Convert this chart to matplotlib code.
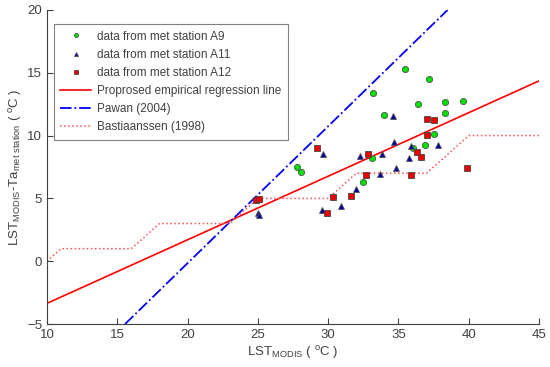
import numpy as np
import matplotlib.pyplot as plt

plt.rcParams['font.family'] = ['Liberation Sans', 'DejaVu Sans']

# station A9
a9_x = [27.8, 28.1, 35.5, 37.2, 33.2, 36.4, 38.3, 39.6, 38.3, 34.0, 37.5, 36.9, 36.05, 33.1, 32.5]
a9_y = [7.5, 7.1, 15.3, 14.5, 13.4, 12.5, 12.7, 12.75, 11.8, 11.6, 10.1, 9.25, 9.05, 8.2, 6.3]
# station A11
a11_x = [25.0, 25.1, 29.55, 30.9, 32.0, 33.7, 34.8, 32.3, 29.6, 33.85, 35.75, 35.9, 37.8, 34.7, 34.6]
a11_y = [3.8, 3.65, 4.05, 4.4, 5.75, 6.95, 7.4, 8.4, 8.5, 8.5, 8.25, 9.2, 9.25, 9.5, 11.55]
# station A12
a12_x = [24.9, 25.1, 29.2, 29.9, 30.35, 31.6, 32.7, 32.8, 35.9, 36.3, 36.6, 37.0, 37.0, 37.5, 39.9]
a12_y = [4.85, 4.95, 9.05, 3.8, 5.15, 5.2, 6.85, 8.5, 6.9, 8.7, 8.3, 10.05, 11.3, 11.25, 7.4]

# lines
reg_x = [10, 45]
reg_y = [-3.35, 14.35]
pawan_x = [15.55, 38.5]
pawan_y = [-5, 20]
bast_x = [10, 11, 16, 18, 23, 25, 30, 32, 37, 40, 45]
bast_y = [0, 1, 1, 3, 3, 5, 5, 7, 7, 10, 10]

fig = plt.figure(figsize=(5.5, 3.67), dpi=100)
ax = fig.add_axes([0.0855, 0.117, 0.8945, 0.856])

ax.plot(a9_x, a9_y, 'o', color='#00e000', mec='#555555', mew=0.6, ms=4.5,
        label='data from met station A9', zorder=4)
ax.plot(a11_x, a11_y, '^', color='#0000a0', mec='#555555', mew=0.6, ms=4.5,
        label='data from met station A11', zorder=4)
ax.plot(a12_x, a12_y, 's', color='#ee0000', mec='#444444', mew=0.6, ms=5,
        label='data from met station A12', zorder=4)
ax.plot(reg_x, reg_y, '-', color='#ff0000', lw=1.2,
        label='Proprosed empirical regression line')
ax.plot(pawan_x, pawan_y, '-.', color='#0000ff', lw=1.3, label='Pawan (2004)')
ax.plot(bast_x, bast_y, ':', color='#ff5050', lw=1.1, label='Bastiaanssen (1998)')

ax.set_xlim(10, 45)
ax.set_ylim(-5, 20)
ax.set_xticks(np.arange(10, 46, 5))
ax.set_yticks(np.arange(-5, 21, 5))
for s in ['top', 'right']:
    ax.spines[s].set_visible(False)
for s in ['left', 'bottom']:
    ax.spines[s].set_color('#404040')
ax.tick_params(direction='in', length=4, color='#404040', labelsize=9.5,
               labelcolor='#404040')

ax.set_xlabel(r'LST$_{\mathregular{MODIS}}$ ( $^{\mathregular{o}}$C )', fontsize=9.5,
              color='#404040', labelpad=2)
ax.set_ylabel(r'LST$_{\mathregular{MODIS}}$-Ta$_{\mathregular{met\ station}}$ ( $^{\mathregular{o}}$C )',
              fontsize=9.5, color='#404040', labelpad=2)

leg = ax.legend(loc='upper left', bbox_to_anchor=(0.014, 0.955), borderaxespad=0,
                fontsize=8.5, frameon=True, fancybox=False, edgecolor='#606060',
                handlelength=2.6, borderpad=0.55, labelspacing=0.52, handletextpad=0.5,
                markerscale=0.65)
leg.get_frame().set_linewidth(0.8)
for t in leg.get_texts():
    t.set_color('#404040')

fig.savefig('out.png', dpi=100)
